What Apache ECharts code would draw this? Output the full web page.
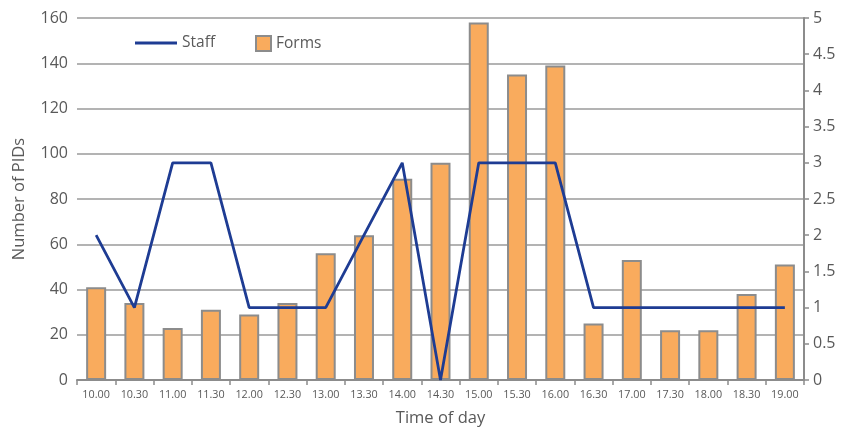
<!DOCTYPE html>
<html>
<head>
<meta charset="utf-8">
<script src="https://cdn.jsdelivr.net/npm/echarts@6/dist/echarts.min.js"></script>
<style>
  html, body { margin: 0; padding: 0; background: #fff; }
  #chart { width: 849px; height: 428px; }
</style>
</head>
<body>
<div id="chart"></div>
<script>
// Half-hourly time slots
const times = ['10.00','10.30','11.00','11.30','12.00','12.30','13.00','13.30','14.00','14.30',
               '15.00','15.30','16.00','16.30','17.00','17.30','18.00','18.30','19.00'];
// Number of PIDs (forms) per slot – left axis
const forms = [41, 34, 23, 31, 29, 34, 56, 64, 89, 96, 158, 135, 139, 25, 53, 22, 22, 38, 51];
// Staff on duty per slot – right axis
const staff = [2, 1, 3, 3, 1, 1, 1, 2, 3, 0, 3, 3, 3, 1, 1, 1, 1, 1, 1];

const leftTicks = { min: 0, max: 160, interval: 20 };
const rightTicks = { min: 0, max: 5, interval: 0.5 };

const textColor = '#595959';
const axisGray = '#8c8c8c';
const font = '"Open Sans", "Noto Sans", sans-serif';

const chart = echarts.init(document.getElementById('chart'));
chart.setOption({
  animation: false,
  backgroundColor: '#ffffff',
  textStyle: { fontFamily: font, color: textColor },
  grid: { left: 77, right: 45, top: 18, bottom: 48, containLabel: false, outerBoundsMode: 'none' },
  legend: [
    {
      data: [{ name: 'Staff', icon: 'rect' }], left: 130, top: 30,
      itemWidth: 42, itemHeight: 3, itemGap: 8,
      textStyle: { fontSize: 15.5, color: textColor, fontFamily: font }
    },
    {
      data: [{ name: 'Forms', icon: 'rect' }], left: 250, top: 30,
      itemWidth: 15, itemHeight: 15, itemGap: 9,
      textStyle: { fontSize: 15.5, color: textColor, fontFamily: font }
    }
  ],
  xAxis: {
    type: 'category',
    data: times,
    boundaryGap: true,
    name: 'Time of day',
    nameLocation: 'middle',
    nameGap: 30,
    nameTextStyle: { fontSize: 16.5, color: textColor, fontFamily: font },
    axisLine: { show: true, lineStyle: { color: axisGray, width: 2 } },
    axisTick: { show: true, alignWithLabel: false, length: 5, lineStyle: { color: axisGray, width: 1.5 } },
    axisLabel: { fontSize: 10.8, color: textColor, margin: 9, interval: 0, fontFamily: font }
  },
  yAxis: [
    {
      type: 'value',
      min: leftTicks.min, max: leftTicks.max, interval: leftTicks.interval,
      name: 'Number of PIDs',
      nameLocation: 'middle',
      nameGap: 49,
      nameRotate: 90,
      nameTextStyle: { fontSize: 16.5, color: textColor, fontFamily: font },
      axisLine: { show: false },
      axisTick: { show: false },
      axisLabel: { fontSize: 16, color: textColor, margin: 9, fontFamily: font },
      splitLine: { show: true, lineStyle: { color: '#9a9a9a', width: 1.5 } }
    },
    {
      type: 'value',
      position: 'right',
      min: rightTicks.min, max: rightTicks.max, interval: rightTicks.interval,
      axisLine: { show: true, lineStyle: { color: axisGray, width: 2 } },
      axisTick: { show: true, length: 5, lineStyle: { color: axisGray, width: 1.5 } },
      axisLabel: { fontSize: 16, color: textColor, margin: 9, fontFamily: font },
      splitLine: { show: false }
    }
  ],
  series: [
    {
      name: 'Forms',
      type: 'bar',
      yAxisIndex: 0,
      data: forms,
      barWidth: 20,
      itemStyle: { color: '#F9AB5D', borderColor: '#8c8c8c', borderWidth: 2 },
      z: 2
    },
    {
      name: 'Staff',
      type: 'line',
      yAxisIndex: 1,
      data: staff,
      symbol: 'none',
      lineStyle: { color: '#1E3C93', width: 2.8 },
      itemStyle: { color: '#1E3C93' },
      z: 3
    }
  ]
});
</script>
</body>
</html>
